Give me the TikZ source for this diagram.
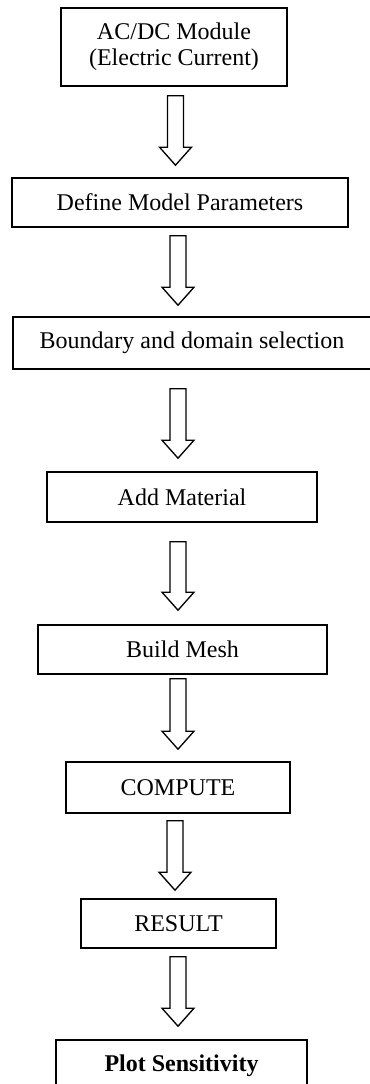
\documentclass[tikz,border=0pt]{standalone}
\usepackage{fontspec}
\setmainfont{Liberation Serif}
\usetikzlibrary{calc}

\begin{document}
\begin{tikzpicture}[x=0.75pt,y=-0.75pt]
\tikzstyle{every node}+=[inner sep=0pt]
\tikzstyle{stepbox}=[draw, line width=1.2pt, align=center, font=\fontsize{18}{19.5}\selectfont]
% hollow block arrow, drawn as one outline between two points
\tikzstyle{blockarrow}=[draw, line width=1pt, miter limit=4, to path={let \p1=(\tikztostart), \p2=(\tikztotarget) in
  (\x1-6pt,\y1) -- (\x1+6pt,\y1) -- (\x1+6pt,\y2+13.5pt) -- (\x1+12pt,\y2+13.5pt)
  -- (\x1,\y2) -- (\x1-12pt,\y2+13.5pt) -- (\x1-6pt,\y2+13.5pt) -- cycle}]
\useasboundingbox (0,0) rectangle (370,1084);

\node[stepbox, minimum width=169.5pt, minimum height=58.5pt] (ac) at (174,47) {AC/DC Module\\(Electric Current)};
\node[stepbox, minimum width=252pt, minimum height=36.75pt] (param) at (180,202.5) {Define Model Parameters};
\node[stepbox, minimum width=268.5pt, minimum height=39pt] (bound) at (192,343) {Boundary and domain selection};
\node[stepbox, minimum width=202.5pt, minimum height=37.5pt] (mat) at (182,497) {Add Material};
\node[stepbox, minimum width=216.75pt, minimum height=36.75pt] (mesh) at (182.5,649.5) {Build Mesh};
\node[stepbox, minimum width=168pt, minimum height=38.25pt] (comp) at (178,787.5) {COMPUTE};
\node[stepbox, minimum width=146.25pt, minimum height=36.75pt] (res) at (178.5,923.5) {RESULT};
\node[stepbox, minimum width=188.25pt, minimum height=38.25pt, font=\fontsize{18}{19.5}\selectfont\bfseries] (plot) at (181.5,1065.5) {Plot Sensitivity};

% arrows: from/to/top gap/tip gap/column
\foreach \a/\b/\t/\h/\c in {ac/param/9/12/175.5, param/bound/8/11/178, bound/mat/19/13/178,
  mat/mesh/19/14/178, mesh/comp/4/12/178, comp/res/7/8/175, res/plot/8/13/178}
  \draw[blockarrow] ($(\a.south -| \c,0)+(0,\t)$) to ($(\b.north -| \c,0)+(0,-\h)$);
\end{tikzpicture}
\end{document}
